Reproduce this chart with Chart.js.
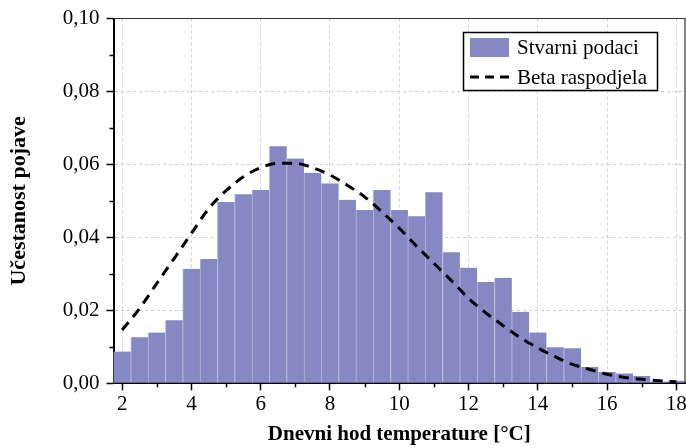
<!DOCTYPE html>
<html><head><meta charset="utf-8">
<script src="https://cdn.jsdelivr.net/npm/chart.js@4/dist/chart.umd.min.js"></script>
<style>html,body{margin:0;padding:0;background:#fff;}canvas{display:block;}</style>
</head><body>
<canvas id="c" width="686" height="448"></canvas>
<script>
// ---- data ----
const binCenters = [2,2.5,3,3.5,4,4.5,5,5.5,6,6.5,7,7.5,8,8.5,9,9.5,10,10.5,11,11.5,12,12.5,13,13.5,14,14.5,15,15.5,16,16.5,17,17.5,18];
const observedFreq = [0.0087,0.0126,0.0139,0.0173,0.0314,0.0341,0.0497,0.0518,0.0530,0.0650,0.0616,0.0577,0.0548,0.0503,0.0475,0.0530,0.0475,0.0458,0.0524,0.0359,0.0317,0.0278,0.0289,0.0196,0.0139,0.0099,0.0096,0.0045,0.0031,0.0027,0.0020,0.0005,0.0007];
const betaX = [2,2.5,3,3.5,4,4.5,5,5.5,6,6.5,7,7.5,8,8.5,9,9.5,10,10.5,11,11.5,12,12.5,13,13.5,14,14.5,15,15.5,16,16.5,17,17.5,18];
const betaY = [0.0146,0.0205,0.0274,0.0342,0.0411,0.0479,0.0528,0.0566,0.0591,0.0603,0.0603,0.0591,0.0571,0.0543,0.0511,0.0470,0.0425,0.0376,0.0329,0.0282,0.0233,0.0193,0.0158,0.0125,0.0097,0.0073,0.0052,0.0038,0.0025,0.0016,0.0011,0.0007,0.0004];
const xTickValues = [2,3,4,5,6,7,8,9,10,11,12,13,14,15,16,17,18];
const xTickLabels = ['2','','4','','6','','8','','10','','12','','14','','16','','18'];
const yTickValues = [0,0.01,0.02,0.03,0.04,0.05,0.06,0.07,0.08,0.09,0.10];
const yTickLabels = ['0,00','','0,02','','0,04','','0,06','','0,08','','0,10'];
const seriesLabels = ['Stvarni podaci','Beta raspodjela'];
const xTitle = 'Dnevni hod temperature [°C]';
const yTitle = 'Učestanost pojave';

const FONT = "'Liberation Serif','Times New Roman',serif";
const BAR_COLOR = '#8588C3';

Chart.defaults.font.family = FONT;
Chart.defaults.color = '#000';

const isMajor = (labels, ctx) => ctx.tick && labels[ctx.index] !== '' && labels[ctx.index] !== undefined;

const decorPlugin = {
  id: 'decor',
  afterDraw(chart) {
    const {ctx, chartArea: a, scales: {x, y}} = chart;
    ctx.save();
    // minor ticks
    ctx.strokeStyle = '#000';
    ctx.lineWidth = 1.5;
    x.ticks.forEach((t, i) => {
      if (!xTickLabels[i]) {
        const px = Math.round(x.getPixelForValue(t.value)) + 0.5;
        ctx.beginPath(); ctx.moveTo(px, a.bottom); ctx.lineTo(px, a.bottom + 4); ctx.stroke();
      }
    });
    y.ticks.forEach((t, i) => {
      if (!yTickLabels[i]) {
        const py = Math.round(y.getPixelForValue(t.value)) + 0.5;
        ctx.beginPath(); ctx.moveTo(a.left, py); ctx.lineTo(a.left - 4, py); ctx.stroke();
      }
    });
    // frame top & right
    ctx.strokeStyle = '#333';
    ctx.lineWidth = 1.2;
    ctx.beginPath();
    ctx.moveTo(a.left, a.top); ctx.lineTo(a.right, a.top); ctx.lineTo(a.right, a.bottom);
    ctx.stroke();
    // legend
    const ds = chart.data.datasets;
    const bw = 194, bh = 58;
    const bx = a.right - 27.5 - bw, by = a.top + 14;
    ctx.fillStyle = '#fff';
    ctx.fillRect(bx, by, bw, bh);
    ctx.strokeStyle = '#000';
    ctx.lineWidth = 1.5;
    ctx.strokeRect(bx, by, bw, bh);
    const sx = bx + 6.5, sw = 39;
    const r1 = by + 15, r2 = by + 44.5;
    ctx.fillStyle = ds[0].backgroundColor;
    ctx.fillRect(sx, r1 - 9.5, sw, 19);
    ctx.strokeStyle = '#000';
    ctx.lineWidth = 3;
    ctx.setLineDash([9, 6]);
    ctx.beginPath(); ctx.moveTo(sx, r2); ctx.lineTo(sx + sw + 2, r2); ctx.stroke();
    ctx.setLineDash([]);
    ctx.fillStyle = '#000';
    ctx.font = "21px " + FONT;
    ctx.textBaseline = 'middle';
    ctx.textAlign = 'left';
    ctx.fillText(ds[0].label, sx + sw + 8, r1 + 1);
    ctx.fillText(ds[1].label, sx + sw + 8, r2 + 1);
    ctx.restore();
  }
};

new Chart(document.getElementById('c'), {
  data: {
    datasets: [
      {
        type: 'bar',
        label: seriesLabels[0],
        data: binCenters.map((v, i) => ({x: v, y: observedFreq[i]})),
        backgroundColor: BAR_COLOR,
        borderColor: '#B3B4DC',
        borderWidth: {left: 1, right: 0, top: 0, bottom: 0},
        borderSkipped: false,
        barPercentage: 1,
        categoryPercentage: 1,
        order: 2
      },
      {
        type: 'line',
        label: seriesLabels[1],
        data: betaX.map((v, i) => ({x: v, y: betaY[i]})),
        borderColor: '#000',
        borderWidth: 3,
        borderDash: [10, 7],
        pointRadius: 0,
        fill: false,
        cubicInterpolationMode: 'monotone',
        order: 1
      }
    ]
  },
  options: {
    responsive: false,
    devicePixelRatio: 1,
    animation: false,
    layout: {padding: {top: 18.5, left: 0, right: 1, bottom: 0}},
    plugins: {legend: {display: false}, tooltip: {enabled: false}},
    scales: {
      x: {
        type: 'linear',
        min: 1.75, max: 18.25,
        offset: false,
        afterBuildTicks: s => { s.ticks = xTickValues.map(v => ({value: v})); },
        afterFit: s => { s.height = 64.7; s.paddingLeft = 0; s.paddingRight = 0; },
        ticks: {
          autoSkip: false, maxRotation: 0,
          padding: 2,
          font: {size: 21, family: FONT},
          color: '#000',
          callback: (v, i) => xTickLabels[i]
        },
        grid: {
          offset: false,
          color: c => isMajor(xTickLabels, c) ? '#cfcfcf' : 'rgba(0,0,0,0)',
          lineWidth: 1,
          tickLength: 7,
          tickWidth: 1.5,
          tickColor: c => isMajor(xTickLabels, c) ? '#000' : 'rgba(0,0,0,0)'
        },
        border: {display: true, color: '#000', width: 2, dash: [3, 3]},
        title: {display: true, text: xTitle, font: {size: 21, weight: 'bold', family: FONT, lineHeight: 1.2}, padding: {top: 0, bottom: 1}, color: '#000'}
      },
      y: {
        type: 'linear',
        min: 0, max: 0.1,
        afterBuildTicks: s => { s.ticks = yTickValues.map(v => ({value: v})); },
        afterFit: s => { s.width = 113.5; s.paddingTop = 0; s.paddingBottom = 0; },
        ticks: {
          padding: 7,
          font: {size: 21, family: FONT},
          color: '#000',
          callback: (v, i) => yTickLabels[i]
        },
        grid: {
          color: c => isMajor(yTickLabels, c) ? '#cfcfcf' : 'rgba(0,0,0,0)',
          lineWidth: 1,
          tickLength: 7,
          tickWidth: 1.5,
          tickColor: c => isMajor(yTickLabels, c) ? '#000' : 'rgba(0,0,0,0)'
        },
        border: {display: true, color: '#000', width: 2, dash: [3, 3]},
        title: {display: true, text: yTitle, font: {size: 22, weight: 'bold', family: FONT, lineHeight: 1.2}, padding: {top: 6, bottom: 0}, color: '#000'}
      }
    }
  },
  plugins: [decorPlugin]
});
</script>
</body></html>
